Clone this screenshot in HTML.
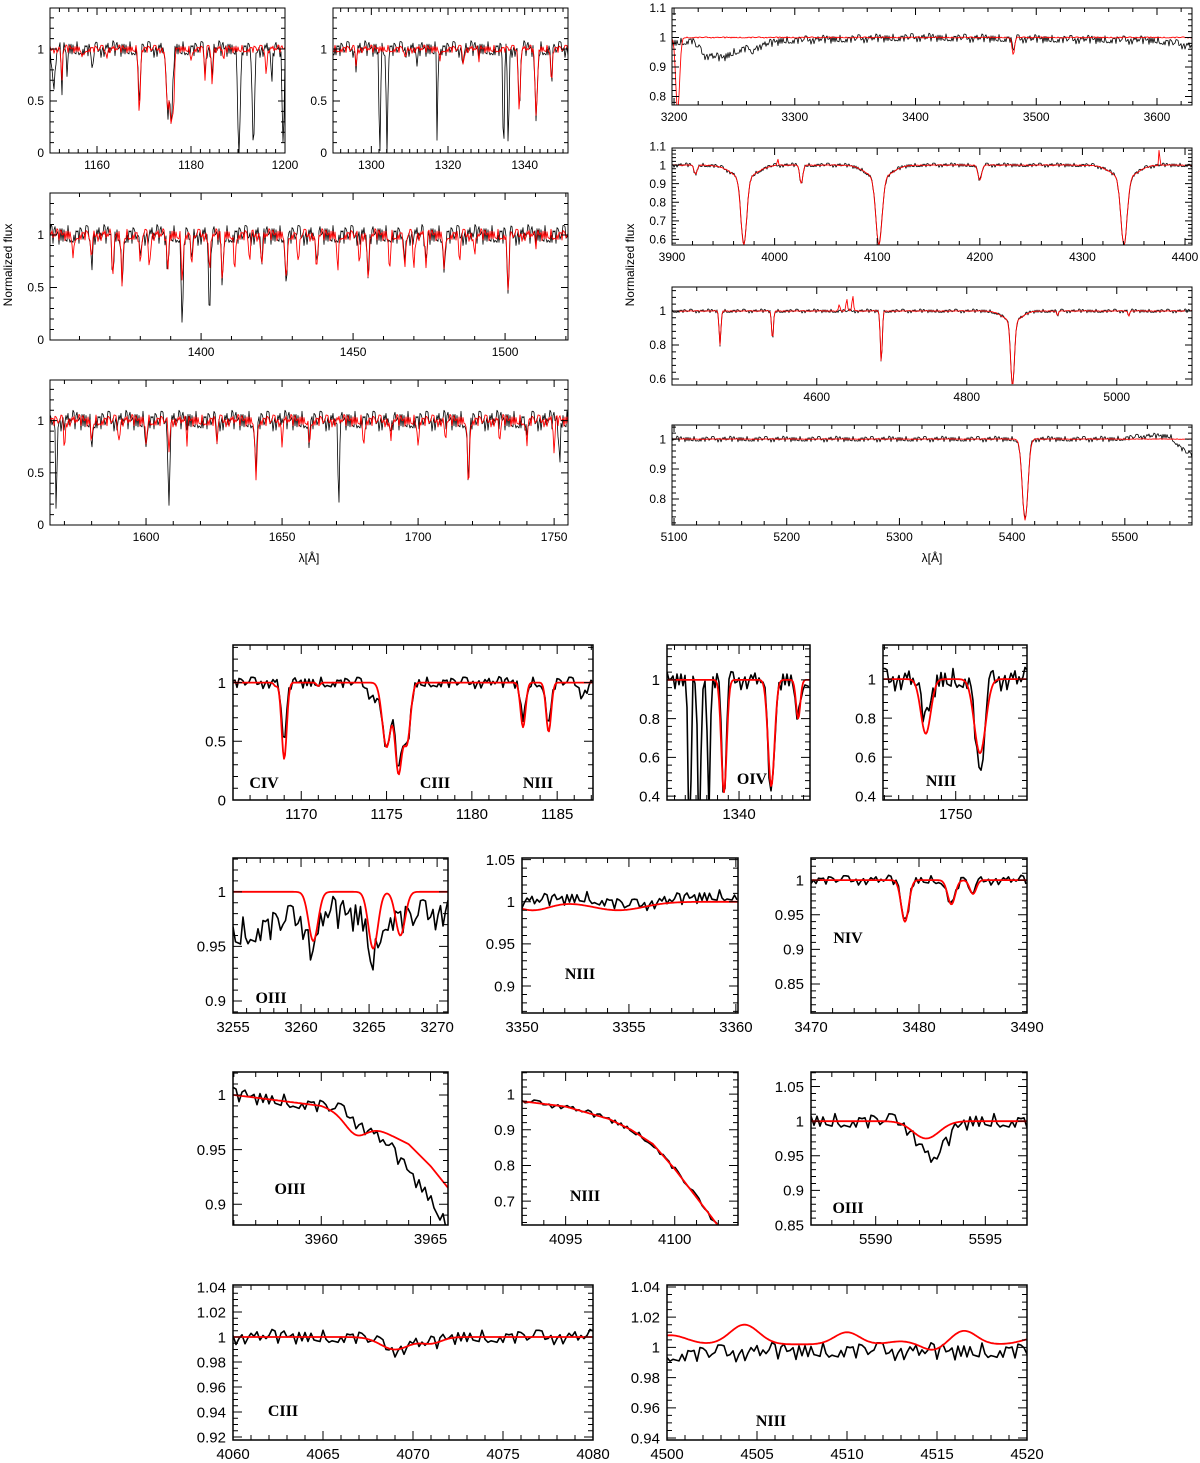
<!DOCTYPE html>
<html><head><meta charset="utf-8"><style>
html,body{margin:0;padding:0;background:#fff}
svg{display:block}
text{font-family:"Liberation Sans",sans-serif;fill:#000}
.lbl{font-family:"Liberation Serif",serif;font-weight:bold;font-size:16px}
</style></head><body>
<svg id="fig" width="1200" height="1463" viewBox="0 0 1200 1463" xmlns="http://www.w3.org/2000/svg">
<text x="12" y="265" font-size="12" text-anchor="middle" transform="rotate(-90 12 265)">Normalized flux</text>
<text x="634" y="265" font-size="12" text-anchor="middle" transform="rotate(-90 634 265)">Normalized flux</text>
<text x="309" y="562" font-size="12" text-anchor="middle">λ[Å]</text>
<text x="932" y="562" font-size="12" text-anchor="middle">λ[Å]</text>
</svg>
<script>
// ---- data ----
const noise=[0.3,-0.8,0.5,-0.2,0.9,-0.6,0.1,-0.9,0.7,-0.4,0.2,0.8,-0.7,0.4,-0.1,0.6,-0.5,1.0,-0.3,0.0,-0.9,0.5,0.3,-0.6,0.8,-0.2,-0.7,0.6,0.1,-0.4,0.9,-0.8,0.2,0.4,-0.5,0.7,-0.1,-0.3,0.5,-1.0,0.3,0.6,-0.4,0.1,-0.7,0.8,-0.2,0.4,-0.6,0.2,0.9,-0.5,0.0];
// lines: [center, depth, sigma]
const p1Red=[[1152.5,0.3,0.15],[1157,0.08,0.2],[1162,0.06,0.2],[1169,0.6,0.2],[1175.0,0.55,0.3],[1175.8,0.7,0.3],[1176.3,0.4,0.2],[1180,0.08,0.2],[1183,0.3,0.15],[1184.5,0.35,0.15],[1187,0.1,0.2],[1196,0.2,0.2]];
const p1Obs=[[1150.8,0.4,0.3],[1152.5,0.4,0.15],[1153.6,0.3,0.1],[1159,0.15,0.3],[1169,0.55,0.2],[1175.0,0.6,0.3],[1175.8,0.7,0.3],[1183,0.25,0.15],[1184.5,0.3,0.15],[1190.2,0.97,0.25],[1193.3,0.97,0.25],[1197.2,0.4,0.15],[1199.6,0.95,0.2]];
const p2Red=[[1296,0.15,0.2],[1309,0.1,0.3],[1318,0.1,0.2],[1324,0.15,0.2],[1328,0.1,0.2],[1338.6,0.6,0.25],[1343,0.65,0.3],[1347,0.3,0.2]];
const p2Obs=[[1296,0.15,0.2],[1302.2,0.98,0.2],[1304.1,0.95,0.2],[1312,0.2,0.2],[1317.2,0.98,0.12],[1324,0.15,0.2],[1334.5,0.98,0.2],[1335.7,0.98,0.2],[1338.6,0.6,0.25],[1343,0.65,0.3],[1347,0.3,0.2]];
const p3Red=[[1358,0.2,0.3],[1364,0.25,0.3],[1371,0.4,0.3],[1374,0.45,0.3],[1380,0.3,0.3],[1383,0.3,0.3],[1389,0.35,0.3],[1393.8,0.4,0.3],[1397,0.3,0.3],[1402.8,0.35,0.3],[1407,0.45,0.3],[1411,0.3,0.3],[1416,0.25,0.3],[1420,0.3,0.3],[1428,0.45,0.3],[1432,0.3,0.3],[1438,0.35,0.3],[1445,0.3,0.3],[1452,0.3,0.3],[1455,0.45,0.3],[1462,0.3,0.3],[1467,0.35,0.3],[1470,0.3,0.3],[1474,0.3,0.3],[1480,0.3,0.3],[1485,0.25,0.3],[1490,0.2,0.3],[1501,0.55,0.3],[1510,0.1,0.3]];
const p3Obs=[[1364,0.25,0.3],[1371,0.4,0.3],[1374,0.45,0.3],[1380,0.3,0.3],[1389,0.35,0.3],[1393.8,0.9,0.3],[1397,0.3,0.3],[1402.8,0.85,0.3],[1407,0.45,0.3],[1420,0.3,0.3],[1428,0.45,0.3],[1438,0.35,0.3],[1455,0.45,0.3],[1467,0.35,0.3],[1474,0.3,0.3],[1480,0.3,0.3],[1501,0.55,0.3]];
const p4Red=[[1570,0.25,0.3],[1580,0.2,0.3],[1590,0.2,0.3],[1600,0.2,0.3],[1608.4,0.35,0.3],[1615,0.2,0.3],[1626,0.2,0.3],[1640.4,0.55,0.35],[1650,0.2,0.3],[1660,0.2,0.3],[1680,0.2,0.3],[1690,0.2,0.3],[1700,0.2,0.3],[1710,0.2,0.3],[1718.5,0.6,0.35],[1730,0.2,0.3],[1740,0.2,0.3],[1750,0.3,0.3]];
const p4Obs=[[1567,1.0,0.25],[1580,0.2,0.3],[1600,0.2,0.3],[1608.4,0.85,0.3],[1626,0.2,0.3],[1640.4,0.45,0.35],[1660,0.2,0.3],[1670.8,0.98,0.25],[1690,0.2,0.3],[1718.5,0.55,0.35],[1740,0.2,0.3],[1752,0.4,0.3]];
const r1Red=[[3203,0.25,1.6],[3481,0.06,1]];
const r1Obs=[[3265,0.04,1],[3481,0.04,1]];
const r1ObsCont=[[3198,0.98],[3215,0.99],[3225,0.94],[3240,0.93],[3255,0.96],[3270,0.97],[3290,0.99],[3400,1.0],[3600,0.99],[3629,0.97]];
const r2Lines=[[3923,0.05,1.5],[3970,0.36,2.8],[3970,0.07,12],[4026,0.1,1.5],[4101.7,0.36,3],[4101.7,0.07,12],[4200,0.08,1.8],[4340.5,0.36,3],[4340.5,0.07,12]];
const r2RedExtra=[[4375,-0.12,0.4],[4003,-0.04,0.5]];
const r3Lines=[[4471,0.2,1.2],[4541,0.17,1.2],[4686,0.3,1.3],[4861,0.38,2.5],[4861,0.06,12],[4921,0.03,1],[5016,0.03,1]];
const r3RedExtra=[[4630,-0.04,1],[4640,-0.07,1],[4648,-0.09,1]];
const r4Lines=[[5411.5,0.27,2.5]];
const r4ObsCont=[[5100,1],[5490,1.0],[5520,1.01],[5540,1.01],[5550,0.97],[5560,0.94]];
const b1Red=[[1168.5,0.03,0.1],[1169,0.65,0.15],[1171,0.03,0.1],[1175.0,0.55,0.25],[1175.7,0.75,0.2],[1176.2,0.5,0.2],[1183,0.38,0.15],[1184.5,0.42,0.15]];
const b1Obs=[[1169,0.5,0.15],[1174.2,0.12,0.3],[1175.0,0.55,0.25],[1175.7,0.7,0.2],[1176.2,0.5,0.2],[1183,0.3,0.15],[1184.5,0.35,0.15],[1186.5,0.1,0.2]];
const b2Red=[[1338.6,0.58,0.25],[1343,0.55,0.3],[1345.5,0.2,0.2]];
const b2Obs=[[1335.4,0.9,0.12],[1336.3,0.9,0.12],[1337.2,0.7,0.12],[1338.6,0.62,0.2],[1343,0.6,0.3],[1345.5,0.2,0.2]];
const b3Red=[[1747.9,0.28,0.35],[1751.7,0.38,0.4]];
const b3Obs=[[1747.9,0.2,0.35],[1751.7,0.5,0.3]];
const c1Red=[[3260.9,0.045,0.35],[3265.3,0.052,0.35],[3267.3,0.04,0.35]];
const c1Obs=[[3260.9,0.03,0.35],[3265.3,0.04,0.35]];
const c1ObsCont=[[3255,0.96],[3258,0.97],[3262,0.98],[3268,0.975],[3271,0.985]];
const c2Red=[[3350.5,0.01,0.8],[3354.5,0.01,1.2]];
const c2ObsCont=[[3350,1.0],[3353,1.005],[3355,0.995],[3358,1.005],[3360,1.008]];
const c3Lines=[[3478.7,0.06,0.35],[3483,0.035,0.35],[3485,0.02,0.3]];
const d1RedCont=[[3956,1.0],[3960,0.99],[3962,0.975],[3964,0.955],[3965,0.935],[3966,0.91]];
const d1Red=[[3961.6,0.015,0.5]];
const d1ObsCont=[[3956,1.0],[3960,0.99],[3961,0.985],[3962,0.97],[3963,0.955],[3964,0.93],[3965,0.905],[3966,0.87]];
const d2Cont=[[4093,0.98],[4095,0.965],[4097,0.93],[4098,0.9],[4099,0.86],[4100,0.79],[4101,0.71],[4102,0.63],[4103,0.55]];
const d3Red=[[5592.3,0.025,0.6]];
const d3Obs=[[5592.6,0.055,0.6]];
const e1Lines=[[4069,0.01,0.8],[4071,0.005,0.6]];
const e2Red=[[4500.2,-0.006,0.9],[4504.3,-0.013,0.8],[4510,-0.008,0.7],[4513,-0.002,0.7],[4514.8,0.004,0.6],[4516.5,-0.009,0.7],[4520.5,-0.004,0.8]];
const e2RedCont=[[4500,1.002],[4520,1.002]];
const e2ObsCont=[[4500,0.995],[4505,0.997],[4510,0.998],[4515,0.997],[4520,0.998]];
// tick label arrays
const T={p1x:[1160,1180,1200],p2x:[1300,1320,1340],p3x:[1400,1450,1500],p4x:[1600,1650,1700,1750],
 ya:[0,0.5,1],r1x:[3200,3300,3400,3500,3600],r1y:[0.8,0.9,1,1.1],r2x:[3900,4000,4100,4200,4300,4400],r2y:[0.6,0.7,0.8,0.9,1,1.1],
 r3x:[4600,4800,5000],r3y:[0.6,0.8,1],r4x:[5100,5200,5300,5400,5500],r4y:[0.8,0.9,1],
 b1x:[1170,1175,1180,1185],b2x:[1340],b3x:[1750],b2y:[0.4,0.6,0.8,1],
 c1x:[3255,3260,3265,3270],c1y:[0.9,0.95,1],c2x:[3350,3355,3360],c2y:[0.9,0.95,1,1.05],c3x:[3470,3480,3490],c3y:[0.85,0.9,0.95,1],
 d1x:[3960,3965],d1y:[0.9,0.95,1],d2x:[4095,4100],d2y:[0.7,0.8,0.9,1],d3x:[5590,5595],d3y:[0.85,0.9,0.95,1,1.05],
 e1x:[4060,4065,4070,4075,4080],e1y:[0.92,0.94,0.96,0.98,1,1.02,1.04],e2x:[4500,4505,4510,4515,4520],e2y:[0.94,0.96,0.98,1,1.02,1.04]};

// ---- layout ----
const P=[
 {n:'p1',b:[50,285,8,153],xd:[1150,1200],yd:[0,1.395],xt:T.p1x,xm:2,yt:T.ya,ym:0.1,fs:12,red:{l:p1Red,a:0.04},obs:{l:p1Obs,a:0.08},sp:1,w:1},
 {n:'p2',b:[333,568,8,153],xd:[1290,1351.3],yd:[0,1.395],xt:T.p2x,xm:2,yt:T.ya,ym:0.1,fs:12,red:{l:p2Red,a:0.04},obs:{l:p2Obs,a:0.08},sp:1,w:1},
 {n:'p3',b:[50,568,193,340],xd:[1350.3,1520.7],yd:[0,1.4],xt:T.p3x,xm:10,yt:T.ya,ym:0.1,fs:12,red:{l:p3Red,a:0.06},obs:{l:p3Obs,a:0.1},sp:1,w:1},
 {n:'p4',b:[50,568,380,525],xd:[1564.7,1755.1],yd:[0,1.39],xt:T.p4x,xm:10,yt:T.ya,ym:0.1,fs:12,red:{l:p4Red,a:0.06},obs:{l:p4Obs,a:0.1},sp:1,w:1},
 {n:'r1',b:[672,1192,8,105],xd:[3198.3,3629],yd:[0.771,1.1],xt:T.r1x,xm:20,yt:T.r1y,ym:0.02,fs:12,red:{l:r1Red,a:0.002},obs:{l:r1Obs,c:r1ObsCont,a:0.015},sp:1,w:1},
 {n:'r2',b:[672,1192,148,245],xd:[3900,4406.8],yd:[0.57,1.092],xt:T.r2x,xm:20,yt:T.r2y,ym:0.02,fs:12,red:{l:r2Lines.concat(r2RedExtra),a:0.002},obs:{l:r2Lines,a:0.012},sp:1,w:1},
 {n:'r3',b:[672,1192,287,385],xd:[4407,5100.3],yd:[0.565,1.141],xt:T.r3x,xm:40,yt:T.r3y,ym:0.04,fs:12,red:{l:r3Lines.concat(r3RedExtra),a:0.002},obs:{l:r3Lines,a:0.012},sp:1,w:1},
 {n:'r4',b:[672,1192,425,525],xd:[5098.2,5559.6],yd:[0.713,1.047],xt:T.r4x,xm:20,yt:T.r4y,ym:0.02,fs:12,red:{l:r4Lines,a:0.001},obs:{l:r4Lines,c:r4ObsCont,a:0.01},sp:1,w:1},
 {n:'b1',b:[233,593,645,800],xd:[1166,1187.1],yd:[0,1.32],xt:T.b1x,xm:1,yt:T.ya,ym:0.1,fs:15,red:{l:b1Red,a:0.0},obs:{l:b1Obs,a:0.05},sp:2,w:2,lab:['CIV',264,788,'CIII',435,788,'NIII',538,788]},
 {n:'b2',b:[667,810,645,800],xd:[1333.3,1346.6],yd:[0.38,1.18],xt:T.b2x,xm:1,yt:T.b2y,ym:0.04,fs:15,red:{l:b2Red,a:0.0},obs:{l:b2Obs,a:0.05},sp:2,w:2,lab:['OIV',752,784]},
 {n:'b3',b:[883,1027,645,800],xd:[1744.9,1755],yd:[0.38,1.175],xt:T.b3x,xm:1,yt:T.b2y,ym:0.04,fs:15,red:{l:b3Red,a:0.0},obs:{l:b3Obs,a:0.06},sp:2,w:2,lab:['NIII',941,786]},
 {n:'c1',b:[233,448,858,1013],xd:[3255,3270.8],yd:[0.889,1.031],xt:T.c1x,xm:1,yt:T.c1y,ym:0.01,fs:15,red:{l:c1Red,a:0},obs:{l:c1Obs,c:c1ObsCont,a:0.016},sp:2.5,w:2,lab:['OIII',271,1003]},
 {n:'c2',b:[522,738,858,1013],xd:[3350,3360.1],yd:[0.868,1.052],xt:T.c2x,xm:1,yt:T.c2y,ym:0.01,fs:15,red:{l:c2Red,a:0},obs:{l:[],c:c2ObsCont,a:0.008},sp:2.5,w:2,lab:['NIII',580,979]},
 {n:'c3',b:[811,1027,858,1013],xd:[3470,3490],yd:[0.808,1.032],xt:T.c3x,xm:2,yt:T.c3y,ym:0.01,fs:15,red:{l:c3Lines,a:0},obs:{l:c3Lines,a:0.007},sp:2.5,w:2,lab:['NIV',848,943]},
 {n:'d1',b:[233,448,1072,1225],xd:[3955.96,3965.8],yd:[0.881,1.021],xt:T.d1x,xm:1,yt:T.d1y,ym:0.01,fs:15,red:{l:d1Red,c:d1RedCont,a:0},obs:{l:[],c:d1ObsCont,a:0.007},sp:3,w:2,lab:['OIII',290,1194]},
 {n:'d2',b:[522,738,1072,1225],xd:[4093,4102.9],yd:[0.633,1.062],xt:T.d2x,xm:1,yt:T.d2y,ym:0.02,fs:15,red:{l:[],c:d2Cont,a:0},obs:{l:[],c:d2Cont,a:0.008},sp:3,w:2,lab:['NIII',585,1201]},
 {n:'d3',b:[811,1027,1072,1225],xd:[5587.05,5596.9],yd:[0.85,1.071],xt:T.d3x,xm:1,yt:T.d3y,ym:0.01,fs:15,red:{l:d3Red,a:0},obs:{l:d3Obs,a:0.012},sp:3,w:2,lab:['OIII',848,1213]},
 {n:'e1',b:[233,593,1285,1440],xd:[4060,4080],yd:[0.9176,1.0416],xt:T.e1x,xm:1,yt:T.e1y,ym:0.005,fs:15,red:{l:e1Lines,a:0},obs:{l:e1Lines,a:0.006},sp:3,w:2,lab:['CIII',283,1416]},
 {n:'e2',b:[667,1027,1285,1440],xd:[4500,4520],yd:[0.9387,1.0413],xt:T.e2x,xm:1,yt:T.e2y,ym:0.005,fs:15,red:{l:e2Red,c:e2RedCont,a:0},obs:{l:[],c:e2ObsCont,a:0.006},sp:3,w:2,lab:['NIII',771,1426]}
];
const NS='http://www.w3.org/2000/svg';
const svg=document.getElementById('fig');
function mk(t,at,par){const e=document.createElementNS(NS,t);for(const k in at)e.setAttribute(k,at[k]);(par||svg).appendChild(e);return e;}
function cont(c,x){if(!c)return 1;if(x<=c[0][0])return c[0][1];for(let i=1;i<c.length;i++){if(x<=c[i][0]){const t=(x-c[i-1][0])/(c[i][0]-c[i-1][0]);return c[i-1][1]+t*(c[i][1]-c[i-1][1]);}}return c[c.length-1][1];}
function flux(s,x,i,off){let f=1;for(const L of s.l){f-=L[1]*Math.exp(-0.5*Math.pow((x-L[0])/L[2],2));}f=Math.max(f,0);return cont(s.c,x)*f+noise[(i*7+off)%noise.length]*s.a;}
function fmt(v){return String(+v.toFixed(3));}
P.forEach((p,pi)=>{
 const [x0,x1,y0,y1]=p.b;
 const X=v=>x0+(v-p.xd[0])/(p.xd[1]-p.xd[0])*(x1-x0);
 const Y=v=>y1-(v-p.yd[0])/(p.yd[1]-p.yd[0])*(y1-y0);
 const g=mk('g',{});
 
 
 const cp=mk('clipPath',{id:'cp'+pi},g);mk('rect',{x:x0,y:y0,width:x1-x0,height:y1-y0},cp);
 ['obs','red'].forEach((k,si)=>{
  const s=p[k];let d='';let i=0;
  const st=k==='red'?(s.a>0?p.sp:1):p.sp;
  for(let px=x0;px<=x1+0.01;px+=st,i++){const lam=p.xd[0]+(px-x0)/(x1-x0)*(p.xd[1]-p.xd[0]);
   const y=Y(flux(s,lam,i,pi*5+si*11));d+=(d?'L':'M')+px.toFixed(1)+' '+y.toFixed(1);}
  const path=mk('path',{d:d,fill:'none',stroke:k==='red'?'#f00':'#000','stroke-width':p.w*(k==='red'?0.9:0.8),'clip-path':'url(#cp'+pi+')','stroke-linejoin':'round'},g);
  
  
 });
 const fr=mk('rect',{x:x0,y:y0,width:x1-x0,height:y1-y0,fill:'none',stroke:'#000','stroke-width':p.w===2?1.5:1},g);
 
 
 let tk='';const ML=p.w===2?9:7,mL=p.w===2?5:4;
 const xs=p.xm;for(let v=Math.ceil(p.xd[0]/xs)*xs;v<=p.xd[1];v+=xs){const px=X(v);const maj=p.xt.some(t=>Math.abs(t-v)<xs/10);const L=maj?ML:mL;tk+=`M${px} ${y1}v${-L}M${px} ${y0}v${L}`;}
 const ys=p.ym;for(let v=Math.ceil(p.yd[0]/ys-1e-6)*ys;v<=p.yd[1]+1e-9;v+=ys){const py=Y(v);const maj=p.yt.some(t=>Math.abs(t-v)<ys/10);const L=maj?ML:mL;tk+=`M${x0} ${py}h${L}M${x1} ${py}h${-L}`;}
 const tp=mk('path',{d:tk,stroke:'#000','stroke-width':1,fill:'none'},g);
 
 
 p.xt.forEach(v=>{const t=mk('text',{x:X(v),y:y1+(p.fs===15?19:16),'font-size':p.fs,'text-anchor':'middle'},g);t.textContent=fmt(v);
  
  });
 p.yt.forEach(v=>{const t=mk('text',{x:x0-(p.fs===15?7:6),y:Y(v)+p.fs*0.35,'font-size':p.fs,'text-anchor':'end'},g);t.textContent=fmt(v);
  
  });
 if(p.lab){for(let j=0;j<p.lab.length;j+=3){const t=mk('text',{x:p.lab[j+1],y:p.lab[j+2],class:'lbl','text-anchor':'middle'},g);t.textContent=p.lab[j];
  
  }}
});
</script>
</body></html>
